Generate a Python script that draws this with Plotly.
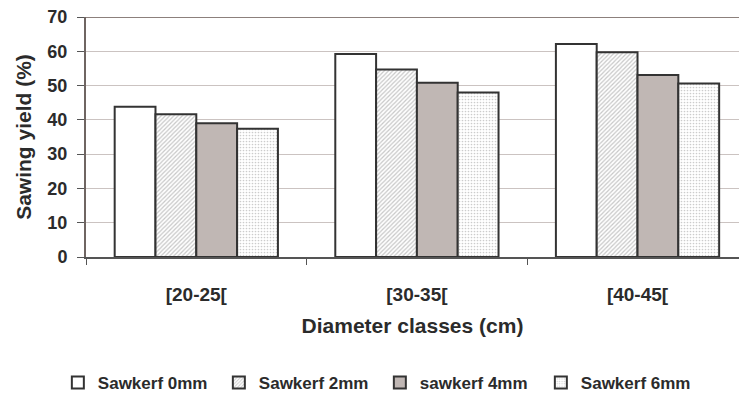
import plotly.graph_objects as go

categories = ["[20-25[", "[30-35[", "[40-45["]
series_names = ["Sawkerf 0mm", "Sawkerf 2mm", "sawkerf 4mm", "Sawkerf 6mm"]
kerf_0mm = [43.8, 59.2, 62.1]
kerf_2mm = [41.6, 54.7, 59.7]
kerf_4mm = [39.0, 50.8, 53.1]
kerf_6mm = [37.4, 48.0, 50.6]
y_ticks = [0, 10, 20, 30, 40, 50, 60, 70]

font = "Liberation Sans, Arial, sans-serif"
txt = "#2b2b2b"
edge = dict(color="#333333", width=2)

styles = [
    dict(color="white", pattern=None),
    dict(color="white", pattern=dict(shape="/", fgcolor="#8f8f8f", bgcolor="white", size=3, solidity=0.4)),
    dict(color="#c0b7b4", pattern=None),
    dict(color="white", pattern=dict(shape=".", fgcolor="#999999", bgcolor="white", size=3, solidity=0.25)),
]

fig = go.Figure()
for name, vals, st in zip(series_names, [kerf_0mm, kerf_2mm, kerf_4mm, kerf_6mm], styles):
    marker = dict(color=st["color"], line=edge)
    if st["pattern"]:
        marker["pattern"] = st["pattern"]
    fig.add_trace(go.Bar(x=categories, y=vals, name=name, marker=marker))

fig.update_layout(
    width=739, height=401,
    margin=dict(l=86, r=0, t=17, b=144),
    paper_bgcolor="white", plot_bgcolor="white",
    barmode="group", bargap=0.26, bargroupgap=0,
    font=dict(family=font, size=17, color=txt, weight="bold"),
    showlegend=True,
    legend=dict(orientation="h", x=0.45, xanchor="center",
                y=-0.525, yanchor="middle",
                font=dict(family=font, size=17, color=txt, weight="bold"),
                entrywidth=116, entrywidthmode="pixels",
                itemwidth=30, tracegroupgap=0),
    xaxis=dict(
        range=[-0.5, 2.46], tickson="boundaries", ticks="outside", ticklen=6,
        tickcolor="#555555", showline=True, linecolor="#555555", linewidth=1.5,
        tickfont=dict(family=font, size=19, color=txt, weight="bold"),
        ticklabelstandoff=19,
        title=dict(text="Diameter classes (cm)", standoff=15,
                   font=dict(family=font, size=21, color=txt, weight="bold")),
        showgrid=False, zeroline=False, fixedrange=True, automargin=False,
    ),
    yaxis=dict(
        range=[0, 70], tickvals=y_ticks, ticks="outside", ticklen=7,
        tickcolor="#555555", showline=True, linecolor="#6f6562", linewidth=2,
        gridcolor="#cbc3c1", gridwidth=1, zeroline=False,
        tickfont=dict(family=font, size=18, color=txt, weight="bold"),
        ticklabelstandoff=6,
        title=dict(text="Sawing yield (%)", standoff=10,
                   font=dict(family=font, size=21, color=txt, weight="bold")),
        fixedrange=True, automargin=False,
    ),
)
fig.add_shape(type="line", xref="paper", yref="y", x0=0, x1=1, y0=70, y1=70,
              line=dict(color="#8c807c", width=2))

fig.write_html("out.html", config={"displayModeBar": False},
               post_script="document.body.style.margin='0';")
